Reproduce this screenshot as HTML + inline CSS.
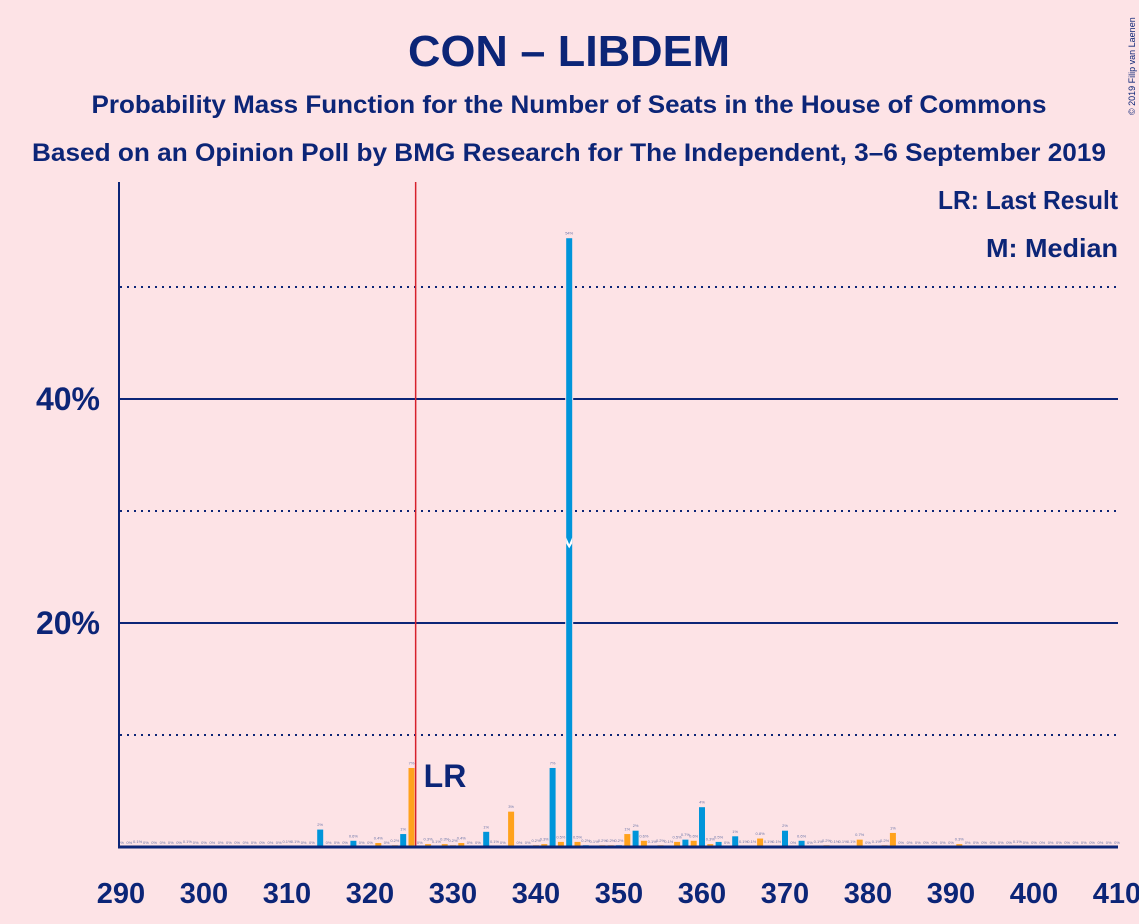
<!DOCTYPE html>
<html><head><meta charset="utf-8"><style>
html,body{margin:0;padding:0;background:#fde3e6;}
svg{display:block;font-family:"Liberation Sans",sans-serif;}
</style></head><body>
<svg id="chart" width="1139" height="924" viewBox="0 0 1139 924">
<rect width="1139" height="924" fill="#fde3e6"/>
<text x="569" y="66" text-anchor="middle" font-size="44" font-weight="bold" fill="#0c2577" textLength="322" lengthAdjust="spacingAndGlyphs">CON – LIBDEM</text>
<text x="569" y="113" text-anchor="middle" font-size="25" font-weight="bold" fill="#0c2577" textLength="955" lengthAdjust="spacingAndGlyphs">Probability Mass Function for the Number of Seats in the House of Commons</text>
<text x="569" y="161" text-anchor="middle" font-size="25" font-weight="bold" fill="#0c2577" textLength="1074" lengthAdjust="spacingAndGlyphs">Based on an Opinion Poll by BMG Research for The Independent, 3–6 September 2019</text>
<text transform="translate(1135,115) rotate(-90)" font-size="9" fill="#0c2577">© 2019 Filip van Laenen</text>
<text x="1118" y="209" text-anchor="end" font-size="26" font-weight="bold" fill="#0c2577" textLength="180" lengthAdjust="spacingAndGlyphs">LR: Last Result</text>
<text x="1118" y="257" text-anchor="end" font-size="26" font-weight="bold" fill="#0c2577" textLength="132" lengthAdjust="spacingAndGlyphs">M: Median</text>
<g id="grid"></g><g id="bars"></g><g id="axes"></g>
</svg>
<script>
const seats = [];
for (let s = 290; s <= 410; s++) seats.push(s);
const nonZeroSeats = [292,298,310,311,314,318,321,323,324,325,327,328,329,330,331,334,335,337,340,341,342,343,344,345,346,347,348,349,350,351,352,353,354,355,356,357,358,359,360,361,362,364,365,366,367,368,369,370,372,374,375,376,377,378,379,381,382,383,391,398];
const nonZeroValues = [0.1,0.1,0.1,0.1,1.6,0.6,0.4,0.2,1.2,7.1,0.3,0.1,0.3,0.2,0.4,1.4,0.1,3.2,0.2,0.3,7.1,0.5,54.4,0.5,0.2,0.1,0.2,0.2,0.2,1.2,1.5,0.6,0.1,0.2,0.1,0.5,0.7,0.6,3.6,0.3,0.5,1.0,0.1,0.1,0.8,0.1,0.1,1.5,0.6,0.1,0.2,0.1,0.1,0.1,0.7,0.1,0.2,1.3,0.3,0.1];
const blueSeats = [314,318,324,334,342,344,346,350,352,358,360,362,364,370,372];
const xTicks = [290,300,310,320,330,340,350,360,370,380,390,400,410];
const yTicks = [20,40];
const yDotted = [10,30,50];
const lastResult = 325.5;
const median = 344;

const NS = "http://www.w3.org/2000/svg";
const X = s => 121 + (s - 290) * 8.3;
const Y = v => 847 - v * 11.2;
const navy = "#0c2577";
function mk(tag, attrs, parent){ const e=document.createElementNS(NS,tag); for(const k in attrs) e.setAttribute(k,attrs[k]); parent.appendChild(e); return e; }
const grid = document.getElementById('grid'), bars = document.getElementById('bars'), axes = document.getElementById('axes');

yTicks.forEach(v => {
  const l = mk('line',{x1:120,x2:1118,y1:Y(v),y2:Y(v),stroke:navy,'stroke-width':2},grid);
  
  
  const t = mk('text',{x:100,y:Y(v)+11,'text-anchor':'end','font-size':32,'font-weight':'bold',fill:navy},axes);
  t.textContent = v + '%';
  
  
});
yDotted.forEach(v => {
  const l = mk('line',{x1:120,x2:1118,y1:Y(v),y2:Y(v),stroke:navy,'stroke-width':2,'stroke-dasharray':'2,5'},grid);
  
  
});

seats.forEach(s => {
  const i = nonZeroSeats.indexOf(s);
  const v = i >= 0 ? nonZeroValues[i] : 0;
  const color = blueSeats.includes(s) ? '#0095da' : '#ffa21c';
  if (v > 0) {
    const r = mk('rect',{x:X(s)-3.5,y:Y(v),width:7,height:847-Y(v),fill:color,stroke:'#fde3e6','stroke-width':1},bars);
    
    
  }
  const t = mk('text',{x:X(s),y:Y(v)-3,'text-anchor':'middle','font-size':4,fill:'#6a75a8'},bars);
  t.textContent = v === 0 ? '0%' : (v < 1 ? v.toFixed(1)+'%' : Math.round(v)+'%');
  
  
});

const mi = nonZeroSeats.indexOf(median);
const my = Y(nonZeroValues[mi] / 2);
const mp = mk('polygon',{points:`${X(median)-3},${my-5} ${X(median)},${my+2} ${X(median)+3},${my-5} ${X(median)+3},${my+1} ${X(median)},${my+6} ${X(median)-3},${my+1}`,fill:'#ffffff'},bars);



const lr = mk('line',{x1:X(lastResult),x2:X(lastResult),y1:182,y2:847,stroke:'#d6212c','stroke-width':1.5},bars);


const lrt = mk('text',{x:X(lastResult)+8,y:787,'font-size':32,'font-weight':'bold',fill:navy},bars);
lrt.textContent = 'LR';



const ya = mk('line',{x1:119,x2:119,y1:182,y2:848,stroke:navy,'stroke-width':2},axes);


const xa = mk('line',{x1:118,x2:1118,y1:847,y2:847,stroke:navy,'stroke-width':3},axes);


xTicks.forEach(s => {
  const t = mk('text',{x:X(s),y:903,'text-anchor':'middle','font-size':29,'font-weight':'bold',fill:navy},axes);
  t.textContent = s;
  
  
});
</script>
</body></html>
